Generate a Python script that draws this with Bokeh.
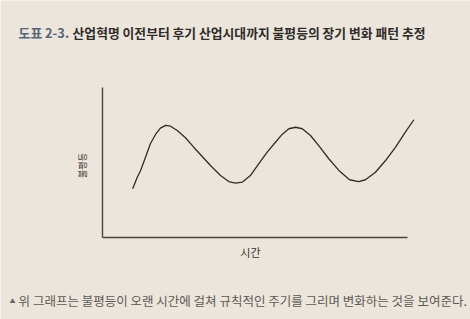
import math
from bokeh.plotting import figure
from bokeh.models import Range1d, ColumnDataSource
from bokeh.core.properties import value
from bokeh.embed import file_html
from bokeh.resources import INLINE

# ---- data (arbitrary units, time 0-100, inequality 0-100)
time = [9.9, 11.4, 12.5, 14.1, 15.7, 17.4, 19.0, 20.7, 22.3, 24.5, 27.2, 29.9,
        32.1, 35.4, 38.7, 41.4, 43.6, 45.8, 48.5, 51.2, 54.0, 56.7, 58.9, 61.1,
        63.3, 65.5, 68.2, 70.9, 74.2, 77.5, 81.0, 84.0, 86.2, 89.5, 92.8, 96.1,
        99.3, 102.1]
inequality = [32.5, 40.2, 44.7, 53.5, 62.5, 68.7, 72.9, 74.7, 74.2, 71.3, 66.5, 60.2,
              55.3, 48.0, 41.3, 37.3, 36.2, 36.9, 41.3, 49.1, 56.9, 63.5, 68.7, 72.5,
              73.5, 72.5, 68.0, 61.3, 52.5, 44.7, 38.5, 37.3, 38.5, 43.5, 51.3, 60.2,
              70.2, 78.5]

# axis extents (time axis 0-100, inequality axis 0-100)
axis_min = 0
axis_max = 100

title_prefix = "도표 2-3."
title_text = "산업혁명 이전부터 후기 산업시대까지 불평등의 장기 변화 패턴 추정"
x_label = "시간"
y_label = "불평등"
caption_mark = "▲"
caption_text = "위 그래프는 불평등이 오랜 시간에 걸쳐 규칙적인 주기를 그리며 변화하는 것을 보여준다."

BG = "#ebe5db"
FONT = "Noto Sans CJK KR"

p = figure(width=470, height=319, output_backend="svg", toolbar_location=None,
           x_range=Range1d(-33.44, 120.66), y_range=Range1d(-54.67, 158.0),
           x_axis_location=None, y_axis_location=None,
           min_border=0, min_border_left=0, min_border_right=0,
           min_border_top=0, min_border_bottom=0)
p.background_fill_color = BG
p.border_fill_color = BG
p.outline_line_color = None
p.grid.visible = False

# axis lines
p.segment(x0=[axis_min, axis_min], y0=[axis_min, axis_min],
          x1=[axis_max, axis_min], y1=[axis_min, axis_max],
          line_color="#4a4540", line_width=1.4)

src = ColumnDataSource(dict(t=time, v=inequality))
p.line("t", "v", source=src, line_color="#2f2c2a", line_width=1.3)

def txt(text, x, y, size, color, align="left", angle=0.0, weight="normal"):
    p.text(x=[x], y=[y], text=[text], text_font=value(FONT), text_font_size=size,
           text_color=color, text_align=align, text_baseline="middle",
           angle=angle, text_font_style=weight)

txt(title_prefix, -27.5, 136.7, "12.8px", "#56667a", weight="bold")
txt(title_text, -9.8, 136.7, "12.8px", "#2e2b29", weight="bold")
txt(y_label, -6.6, 48.0, "9px", "#3a3633", align="center", angle=math.pi / 2)
txt(x_label, 48.5, -10.0, "11px", "#3a3633", align="center")
txt(caption_mark, -30.5, -42.0, "6px", "#6a6560")
txt(caption_text, -27.5, -42.0, "12.5px", "#5e5955")

open("out.html", "w").write(file_html(p, INLINE))
